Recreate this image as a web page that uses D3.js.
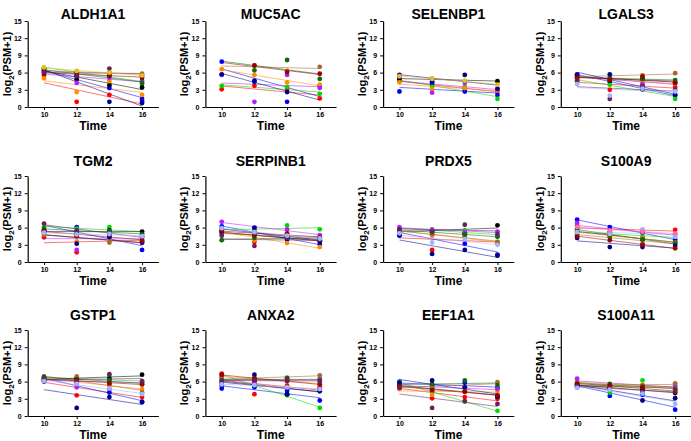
<!DOCTYPE html>
<html>
<head>
<meta charset="utf-8">
<script src="https://cdn.jsdelivr.net/npm/d3@7"></script>
<style>
  body { margin: 0; background: #fff; }
  text { font-family: "Liberation Sans", Arial, sans-serif; font-weight: bold; fill: #000; }
</style>
</head>
<body>
<svg id="chart" width="691" height="441"></svg>
<script>
// time points and y ticks
const times = [10, 12, 14, 16];
const yTicks = [0, 3, 6, 9, 12, 15];
const genes = ["ALDH1A1", "MUC5AC", "SELENBP1", "LGALS3", "TGM2", "SERPINB1",
               "PRDX5", "S100A9", "GSTP1", "ANXA2", "EEF1A1", "S100A11"];

// one colour per subject
const subjects = ["S1","S2","S3","S4","S5","S6","S7","S8","S9","S10","S11","S12","S13","S14"];
const colors = ["#ff0000","#0000ff","#00d800","#000000","#ff8c00","#b41eff","#a5692a",
                "#0b6b0b","#00008b","#990000","#6b1f5f","#9fb6ff","#ff6fa0","#e0c020"];

// log2(PSM+1) per subject at times 10,12,14,16 (null = not measured)
const ALDH1A1 = [[5.5,0.9,2.1,1.0],[6.0,5.3,3.3,1.4],[6.8,5.9,6.0,4.0],[6.7,4.8,3.8,3.4],
  [5.0,2.6,4.5,2.1],[6.4,4.2,5.1,4.6],[6.4,6.1,5.8,5.8],[6.5,5.6,5.4,4.2],[6.2,5.5,0.9,0.7],
  [5.8,6.0,5.5,5.1],[6.1,5.4,6.7,5.5],null,null,[6.9,6.3,6.0,5.5]];
const MUC5AC = [[3.1,3.7,3.2,1.5],[7.9,4.4,0.9,3.7],[3.7,null,3.5,2.3],null,
  [6.6,5.6,4.3,3.9],[5.6,0.9,5.6,3.3],[null,7.3,6.3,7.0],[null,6.4,8.2,4.9],[5.7,4.6,2.6,null],
  [null,7.2,6.1,5.8],null,null,null,null];
const SELENBP1 = [[4.5,3.9,3.2,2.7],[2.7,4.2,2.7,2.1],[4.6,3.5,3.5,1.4],[4.9,4.9,null,4.5],
  [4.3,3.1,3.3,2.9],[5.3,2.5,4.2,3.1],null,null,[5.6,4.5,5.6,3.2],
  null,null,null,null,[5.4,4.9,4.6,3.9]];
const LGALS3 = [[4.9,3.0,3.8,3.5],[5.7,4.4,3.2,2.0],[4.5,3.9,3.4,1.4],[5.4,4.6,4.9,4.3],
  [5.1,5.1,4.3,4.1],[5.4,4.8,4.0,4.2],[5.5,5.2,5.5,5.9],[5.2,5.0,4.9,4.7],[5.6,5.7,3.1,2.2],
  [5.1,4.7,5.3,4.2],[4.6,1.4,3.6,3.0],[4.0,2.0,3.2,2.7],null,null];
const TGM2 = [[4.3,1.7,4.4,3.9],[5.6,6.1,4.7,2.1],[6.1,5.8,6.1,5.0],[5.5,4.9,5.5,5.3],
  [5.0,3.6,4.2,3.3],[5.2,2.1,4.6,4.3],[4.7,4.6,3.4,3.6],[5.8,5.3,5.4,4.8],[5.3,3.2,4.3,3.4],
  [5.4,4.5,4.8,3.7],[6.7,5.5,5.0,4.4],[5.1,4.8,4.9,4.5],null,null];
const SERPINB1 = [[5.8,3.5,4.5,3.8],[6.2,5.4,3.9,3.1],[5.6,5.5,6.4,5.7],[5.1,4.7,4.4,3.6],
  [5.6,3.8,3.3,2.6],[7.0,5.9,5.7,4.7],[4.9,4.8,4.6,4.2],[3.8,4.2,4.3,4.0],[5.3,6.0,4.1,3.8],
  [5.5,4.7,5.0,4.3],[4.6,2.8,4.2,3.9],[5.9,5.2,4.6,4.1],null,null];
const PRDX5 = [[5.1,2.1,4.8,3.4],[4.6,4.7,3.2,1.3],[5.7,5.7,5.5,4.5],[5.5,5.5,5.0,6.4],
  [5.4,4.6,4.6,3.2],[6.1,5.6,5.2,5.3],[5.3,4.9,4.4,3.5],[5.6,5.2,4.8,4.4],[4.7,1.4,2.1,1.1],
  null,[5.7,5.3,6.5,4.9],[5.0,3.4,4.0,3.0],null,null];
const S100A9 = [[6.3,5.3,5.5,5.6],[7.4,6.1,5.1,3.9],[5.7,4.3,4.4,4.6],[5.3,4.8,3.9,3.5],
  [5.0,4.8,4.2,3.3],[6.8,5.2,5.2,4.9],[4.7,4.6,3.2,3.4],[5.8,4.6,4.0,3.2],[4.2,2.6,2.6,2.8],
  [4.5,3.8,3.0,2.4],null,[5.2,4.9,5.7,4.4],[6.1,5.5,5.3,5.0],null];
const GSTP1 = [[6.6,3.6,4.7,3.3],[6.2,5.8,4.1,2.4],[6.7,6.2,6.9,5.8],[6.5,6.6,6.5,7.2],
  [6.5,5.9,5.3,4.7],[6.9,5.0,6.2,6.0],[6.4,6.9,5.5,4.1],[6.8,6.4,6.2,5.6],[6.0,1.4,3.3,2.5],
  [6.4,6.3,5.7,5.5],[6.3,6.0,7.3,6.1],[6.1,5.6,4.8,3.8],null,null];
const ANXA2 = [[7.4,3.8,5.3,5.0],[4.8,5.0,4.4,2.7],[7.1,5.4,3.6,1.4],[5.8,6.0,3.8,4.7],
  [6.9,6.4,6.2,5.6],[6.7,5.6,6.3,6.5],[6.5,6.6,6.7,7.1],[6.2,6.5,6.6,6.2],[5.3,7.2,3.8,4.3],
  [7.2,6.5,6.1,5.5],[6.1,6.2,6.3,6.0],[5.5,5.4,5.0,4.7],null,null];
const EEF1A1 = [[5.5,3.1,3.3,3.0],[6.0,4.9,5.8,4.9],[5.9,4.1,2.5,0.9],[4.9,5.3,4.3,3.4],
  [4.7,3.7,4.5,4.2],[5.6,4.6,4.9,4.7],[5.1,5.2,5.0,5.9],[5.3,5.6,6.2,5.4],[5.8,6.2,5.0,3.4],
  [5.2,4.5,4.2,3.6],[4.9,1.4,2.6,2.1],null,null,null];
const S100A11 = [[5.0,5.3,5.4,4.6],[5.3,3.5,3.7,1.1],[5.8,4.1,6.2,4.8],[5.4,4.9,4.6,4.0],
  [6.0,5.5,5.3,5.1],[6.5,5.3,5.2,5.3],[5.5,5.4,5.2,5.7],[5.7,5.6,5.1,4.7],[5.5,4.8,2.7,3.1],
  [5.6,5.3,5.0,4.2],[5.2,4.8,4.2,4.4],[4.9,4.6,3.9,2.1],null,null];

const panels = [ALDH1A1, MUC5AC, SELENBP1, LGALS3, TGM2, SERPINB1,
                PRDX5, S100A9, GSTP1, ANXA2, EEF1A1, S100A11];

const svg = d3.select("#chart");

// grid of panels
const colLeft = 27.7, colStep = 177.7, plotW = 130.7;
const rowTop = [21, 176, 330], plotH = 86;
const titleY = [19, 166, 320];

// least squares fit over the measured points
function fit(vals) {
  const pts = times.map((t, i) => [t, vals[i]]).filter(p => p[1] != null);
  const mx = d3.mean(pts, p => p[0]), my = d3.mean(pts, p => p[1]);
  const sxy = d3.sum(pts, p => (p[0] - mx) * (p[1] - my));
  const sxx = d3.sum(pts, p => (p[0] - mx) * (p[0] - mx));
  const b = sxx ? sxy / sxx : 0;
  return t => my + b * (t - mx);
}

panels.forEach((rows, k) => {
  const c = k % 4, r = Math.floor(k / 4);
  const x0 = colLeft + c * colStep, y0 = rowTop[r];

  const x = d3.scaleLinear().domain([9, 17]).range([x0, x0 + plotW]);
  const y = d3.scaleLinear().domain([0, 15]).range([y0 + plotH, y0]);

  const g = svg.append("g");

  // regression lines
  rows.forEach((vals, s) => {
    if (!vals) return;
    const f = fit(vals);
    g.append("line")
      .attr("x1", x(10)).attr("y1", y(f(10)))
      .attr("x2", x(16)).attr("y2", y(f(16)))
      .attr("stroke", colors[s])
      .attr("stroke-opacity", 0.6)
      .attr("stroke-width", 0.9);
  });

  // points
  rows.forEach((vals, s) => {
    if (!vals) return;
    g.selectAll(null)
      .data(times.map((t, i) => [t, vals[i]]).filter(p => p[1] != null))
      .enter().append("circle")
      .attr("cx", d => x(d[0]))
      .attr("cy", d => y(d[1]))
      .attr("r", 2.4)
      .attr("fill", colors[s]);
  });

  // axes
  const xAxis = g.append("g")
    .attr("transform", "translate(0," + (y0 + plotH) + ")")
    .call(d3.axisBottom(x).tickValues(times).tickSize(3).tickSizeOuter(0));
  const yAxis = g.append("g")
    .attr("transform", "translate(" + x0 + ",0)")
    .call(d3.axisLeft(y).tickValues(yTicks).tickSize(3).tickSizeOuter(0));
  [xAxis, yAxis].forEach(a => {
    a.select(".domain").attr("stroke", "#000").attr("stroke-width", 1.2);
    a.selectAll(".tick line").attr("stroke", "#000").attr("stroke-width", 1);
    a.selectAll(".tick text").attr("font-size", 7).attr("fill", "#000")
      .style("font-family", '"Liberation Sans", Arial, sans-serif').style("font-weight", "bold");
  });
  xAxis.selectAll(".tick text").attr("y", 5).attr("dy", "0.7em");

  // title
  g.append("text")
    .attr("x", x(13)).attr("y", titleY[r])
    .attr("text-anchor", "middle")
    .attr("font-size", 14)
    .text(genes[k]);

  // x label
  g.append("text")
    .attr("x", x(13)).attr("y", y0 + plotH + 23)
    .attr("text-anchor", "middle")
    .attr("font-size", 12)
    .text("Time");

  // y label with subscript
  const yl = g.append("text")
    .attr("transform", "translate(" + (x0 - 17) + "," + (y0 + plotH / 2) + ") rotate(-90)")
    .attr("text-anchor", "middle")
    .attr("font-size", 11);
  yl.append("tspan").text("log");
  yl.append("tspan").attr("font-size", 8).attr("dy", 3).text("2");
  yl.append("tspan").attr("dy", -3).text("(PSM+1)");
});
</script>
</body>
</html>
